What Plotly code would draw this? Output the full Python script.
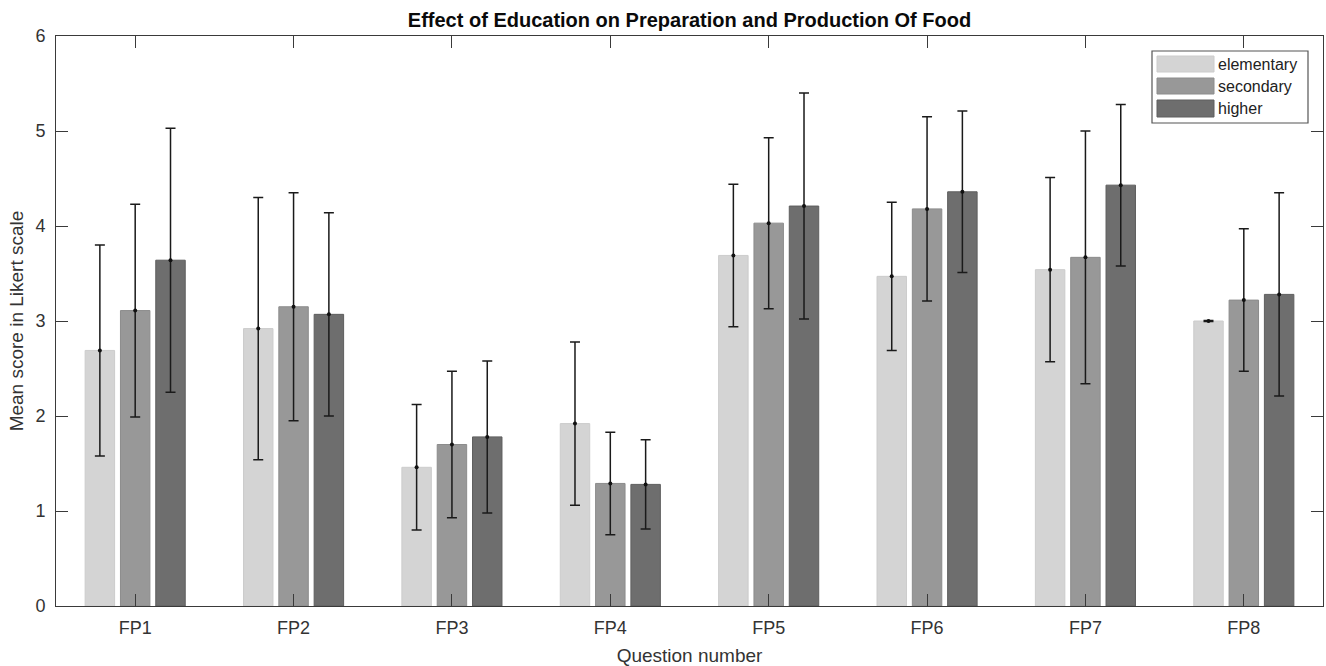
import numpy as np
import plotly.graph_objects as go

# Question labels and education groups
questions = ["FP1", "FP2", "FP3", "FP4", "FP5", "FP6", "FP7", "FP8"]
groups = ["elementary", "secondary", "higher"]

# Mean Likert scores per group
mean_elementary = [2.69, 2.92, 1.46, 1.92, 3.69, 3.47, 3.54, 3.00]
mean_secondary = [3.11, 3.15, 1.70, 1.29, 4.03, 4.18, 3.67, 3.22]
mean_higher = [3.64, 3.07, 1.78, 1.28, 4.21, 4.36, 4.43, 3.28]

# Standard deviations (symmetric error bars)
sd_elementary = [1.11, 1.38, 0.66, 0.86, 0.75, 0.78, 0.97, 0.005]
sd_secondary = [1.12, 1.20, 0.77, 0.54, 0.90, 0.97, 1.33, 0.75]
sd_higher = [1.39, 1.07, 0.80, 0.47, 1.19, 0.85, 0.85, 1.07]

y_ticks = [0, 1, 2, 3, 4, 5, 6]

means = [mean_elementary, mean_secondary, mean_higher]
sds = [sd_elementary, sd_secondary, sd_higher]
fills = ["#d4d4d4", "#989898", "#6e6e6e"]
edges = ["#cccccc", "#8c8c8c", "#5e5e5e"]

slot = 0.223
bar_w = 0.186
base = np.arange(1, len(questions) + 1)

fig = go.Figure()
for k in range(3):
    xs = base + (k - 1) * slot
    fig.add_trace(go.Bar(
        x=xs, y=means[k], width=bar_w, name=groups[k],
        marker=dict(color=fills[k], line=dict(color=edges[k], width=1)),
        showlegend=False,
    ))
for k in range(3):
    xs = base + (k - 1) * slot
    fig.add_trace(go.Scatter(
        x=xs, y=means[k], mode="markers",
        marker=dict(color="#111111", size=4),
        error_y=dict(type="data", array=sds[k], visible=True,
                     color="#1a1a1a", thickness=1.5, width=5),
        showlegend=False, hoverinfo="skip",
    ))

axis_col = "#3a3a3a"
font_family = "Liberation Sans, Arial"
fig.update_xaxes(
    range=[0.5, 8.5], tickmode="array", tickvals=list(base), ticktext=questions,
    ticks="inside", ticklen=12, tickcolor=axis_col, tickwidth=1,
    showline=True, linecolor=axis_col, linewidth=1, mirror="ticks",
    showgrid=False, zeroline=False, ticklabelstandoff=5,
    tickfont=dict(family=font_family, size=18, color="#333333"),
    title=dict(text="Question number", standoff=12,
               font=dict(family=font_family, size=19, color="#333333")),
)
fig.update_yaxes(
    range=[0, 6], tickmode="array", tickvals=y_ticks,
    ticks="inside", ticklen=12, tickcolor=axis_col, tickwidth=1,
    showline=True, linecolor=axis_col, linewidth=1, mirror="ticks",
    showgrid=False, zeroline=False, ticklabelstandoff=6,
    tickfont=dict(family=font_family, size=18, color="#333333"),
    title=dict(text="Mean score in Likert scale", standoff=6,
               font=dict(family=font_family, size=19, color="#333333")),
)

# Legend box with wide colour swatches
lx0, lx1, ly0, ly1 = 1152, 1308, 51, 123
W, H = 1326, 666
ml, mr, mt, mb = 56, 3, 36, 60
pw, ph = W - ml - mr, H - mt - mb


def px(x):
    return (x - ml) / pw


def py(y):
    return 1 - (y - mt) / ph


shapes = [dict(type="rect", xref="paper", yref="paper",
               x0=px(lx0), x1=px(lx1), y0=py(ly1), y1=py(ly0),
               line=dict(color="#555555", width=1.2), fillcolor="white", layer="above")]
annotations = []
rows = [(56, 72), (78, 94), (100, 117)]
for k, (r0, r1) in enumerate(rows):
    shapes.append(dict(type="rect", xref="paper", yref="paper",
                       x0=px(1157), x1=px(1214), y0=py(r1), y1=py(r0),
                       line=dict(color=edges[k], width=1), fillcolor=fills[k], layer="above"))
    annotations.append(dict(xref="paper", yref="paper", x=px(1216), y=py((r0 + r1) / 2),
                            text=groups[k], showarrow=False, xanchor="left", yanchor="middle",
                            font=dict(family=font_family, size=16, color="#222222")))

fig.update_layout(
    width=W, height=H,
    margin=dict(l=ml, r=mr, t=mt, b=mb),
    paper_bgcolor="white", plot_bgcolor="white",
    title=dict(text="<b>Effect of Education on Preparation and Production Of Food</b>",
               x=0.5, xref="paper", y=1 - 20 / H, yanchor="middle",
               font=dict(family=font_family, size=20, color="#0a0a0a")),
    shapes=shapes, annotations=annotations,
    showlegend=False,
)

fig.write_html("out.html")
